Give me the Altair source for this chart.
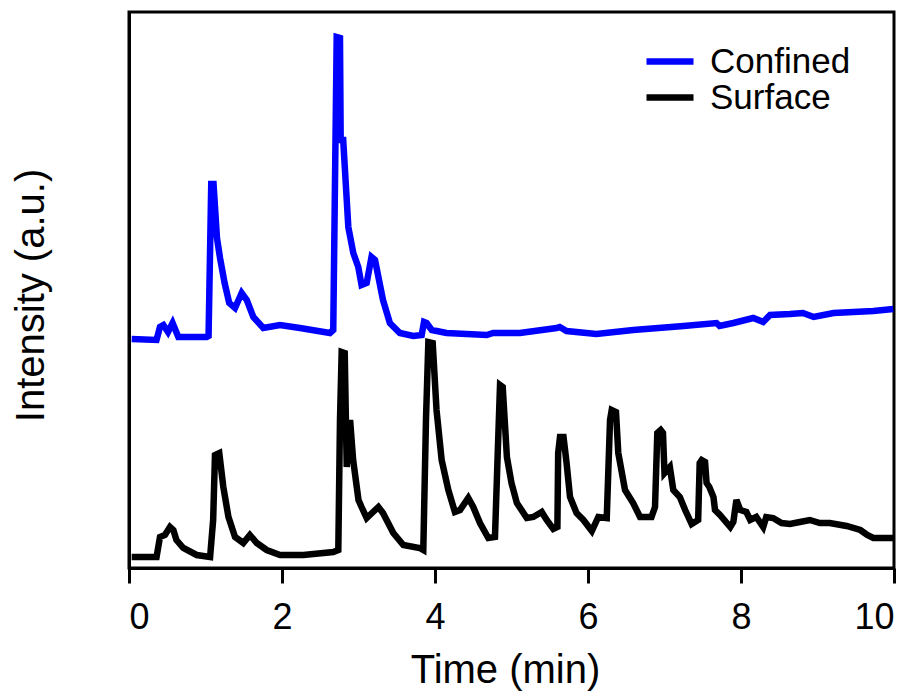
import altair as alt
import pandas as pd

# ---- data (time in min, intensity in a.u.) ----
confined_time = [0.035, 0.36, 0.405, 0.45, 0.51, 0.57, 0.645, 1.015, 1.04, 1.075, 1.105, 1.15,
                 1.19, 1.25, 1.31, 1.386, 1.473, 1.54, 1.625, 1.755, 1.974, 2.235, 2.627, 2.67,
                 2.69, 2.715, 2.758, 2.767, 2.80, 2.867, 2.932, 2.997, 3.04, 3.107, 3.17, 3.216,
                 3.32, 3.41, 3.54, 3.716, 3.826, 3.856, 3.89, 3.957, 4.15, 4.676, 4.76, 5.11,
                 5.59, 5.63, 5.72, 6.11, 6.59, 7.25, 7.68, 7.72, 7.90, 8.16, 8.29, 8.38, 8.64,
                 8.81, 8.95, 9.21, 9.47, 9.73, 9.99]
confined_intensity = [229, 228, 241, 243, 236, 245, 231, 231, 232, 384, 384, 330,
                      310, 285, 265, 260, 275, 268, 251, 240, 243, 240, 235, 238,
                      368, 531, 530, 428, 428, 341, 315, 301, 283, 285, 311, 308,
                      268, 245, 235, 232, 233, 246, 245, 238, 235, 233, 235, 235,
                      240, 241, 237, 234, 238, 242, 245, 242, 245, 250, 246, 253, 254,
                      255, 251, 255, 256, 257, 259]

surface_time = [0.035, 0.36, 0.405, 0.47, 0.536, 0.58, 0.62, 0.71, 0.885, 1.06, 1.10, 1.124,
                1.18, 1.233, 1.30, 1.386, 1.494, 1.58, 1.67, 1.80, 1.974, 2.28, 2.67, 2.736,
                2.758, 2.78, 2.82, 2.846, 2.89, 2.93, 3.0, 3.04, 3.107, 3.19, 3.26, 3.32,
                3.455, 3.586, 3.80, 3.847, 3.882, 3.913, 3.97, 4.02, 4.087, 4.174, 4.26, 4.327,
                4.435, 4.50, 4.588, 4.697, 4.784, 4.82, 4.85, 4.885, 4.94, 5.0, 5.07, 5.2,
                5.285, 5.395, 5.46, 5.546, 5.6, 5.61, 5.634, 5.68, 5.72, 5.765, 5.85, 5.94,
                6.05, 6.135, 6.245, 6.288, 6.31, 6.366, 6.396, 6.484, 6.59, 6.68, 6.83, 6.876,
                6.906, 6.95, 6.98, 7.0, 7.07, 7.115, 7.2, 7.27, 7.355, 7.44, 7.46, 7.486,
                7.53, 7.55, 7.586, 7.64, 7.66, 7.725, 7.86, 7.90, 7.94, 7.99, 8.07, 8.12,
                8.2, 8.29, 8.33, 8.42, 8.53, 8.64, 8.77, 8.9, 9.03, 9.16, 9.38, 9.56,
                9.65, 9.73, 9.86, 10.0]
surface_intensity = [11, 11, 31, 33, 41, 38, 28, 20, 13, 11, 48, 113,
                     115, 81, 51, 31, 25, 33, 25, 18, 13, 13, 16, 18,
                     148, 216, 215, 101, 148, 108, 68, 61, 50, 56, 61, 55,
                     35, 23, 20, 18, 148, 226, 225, 158, 108, 78, 56, 58,
                     70, 61, 45, 30, 31, 115, 183, 181, 111, 85, 65, 50,
                     51, 56, 48, 39, 41, 115, 131, 131, 105, 71, 55, 48,
                     37, 51, 50, 148, 158, 156, 115, 78, 65, 51, 51, 61,
                     135, 138, 135, 95, 101, 78, 71, 58, 44, 48, 105, 108,
                     106, 85, 81, 71, 58, 53, 41, 46, 68, 58, 56, 48,
                     51, 41, 51, 50, 45, 44, 46, 48, 45, 45, 42, 38,
                     33, 30, 30, 30]

series_names = ["Confined", "Surface"]
series_colors = ["#0000ff", "#000000"]
x_ticks = [0, 2, 4, 6, 8, 10]

df = pd.concat([
    pd.DataFrame({"time": confined_time, "intensity": confined_intensity, "series": series_names[0]}),
    pd.DataFrame({"time": surface_time, "intensity": surface_intensity, "series": series_names[1]}),
], ignore_index=True)

FONT = "Liberation Sans"

chart = alt.Chart(df).mark_line(strokeWidth=6.5).encode(
    x=alt.X("time:Q",
            scale=alt.Scale(domain=[0, 10], nice=False, zero=False),
            axis=alt.Axis(values=x_ticks, title="Time (min)", format="d",
                          labelBaseline="alphabetic", labelPadding=45,
                          titleBaseline="alphabetic", titleX=376, titleY=114)),
    y=alt.Y("intensity:Q",
            scale=alt.Scale(domain=[0, 556], nice=False, zero=False),
            axis=alt.Axis(title="Intensity (a.u.)", ticks=False, labels=False,
                          titleBaseline="alphabetic", titleX=-86, titleY=283,
                          titleAngle=-90)),
    color=alt.Color("series:N",
                    scale=alt.Scale(domain=series_names, range=series_colors),
                    legend=alt.Legend(title=None, orient="none", legendX=514, legendY=32,
                                      symbolType="stroke", symbolSize=2209,
                                      symbolStrokeWidth=6.5, labelFontSize=35,
                                      labelFont=FONT, labelColor="black",
                                      labelOffset=13, padding=0, rowPadding=0,
                                      clipHeight=35)),
).properties(
    width=765, height=556,
    autosize=alt.AutoSizeParams(type="none"),
    padding={"left": 121, "top": 4, "right": 20, "bottom": 128},
).configure_view(
    stroke="black", strokeWidth=3
).configure_axis(
    domainColor="black", domainWidth=3, tickColor="black", tickWidth=3, tickSize=15,
    grid=False, labelFont=FONT, labelFontSize=36, labelColor="black",
    titleFont=FONT, titleFontSize=40, titleFontWeight="normal", titleColor="black",
)

chart.save("out.html", embed_options={"renderer": "svg", "actions": False})
